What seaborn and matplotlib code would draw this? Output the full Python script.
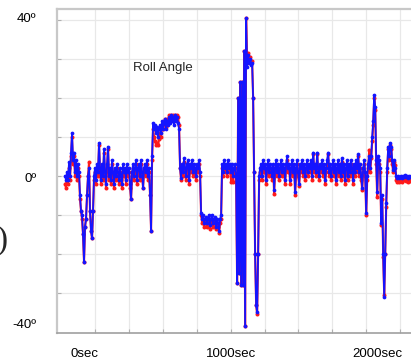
import numpy as np
import pandas as pd
import matplotlib
matplotlib.use("Agg")
import matplotlib.pyplot as plt
from matplotlib.ticker import FixedLocator
import seaborn as sns

# ---- data (roll angle in degrees, regularly sampled) ----
t_start = -133.0      # seconds
t_step = 6.83         # seconds per sample

roll_blue = [
    0, -1, 1, -1, 3.5, 0, 6, 11, 4, 6,
    1, 4, 0, 3, 1, -5, -9, -10, -15, -22,
    -13, -11, -5, 0, 2, -9, -14, -16, -9, 0,
    2, -1, 3, 1, 8.5, 2, -1, 3, 0, 7,
    1, -2, 3, 7.5, 0, 2, -1, 4, 1, -2,
    2, 0, 3, 1, -1, 2, 0, -2, 3, 1,
    2, -1, 3, 1, 2, -2, -6, 1, 3, 0,
    2, 4, -1, 2, 3, 0, 4, 1, -3, 2,
    3, 1, 4, 0, 2, -5, -14, 5, 13.5, 12,
    13, 11, 12.5, 10, 12, 13, 11, 14, 12, 13.5,
    14.5, 12, 14, 13, 15, 13.5, 15.5, 14, 15, 13,
    15.5, 14, 15, 13.5, 12, 2, -0.5, 3, 1, 4.5,
    2, 0, 3, 4, -1, 3, 2, 4, 1, 3,
    2, 0, 3, 2, 4, 1, -9.5, -11, -10, -12,
    -11, -10.5, -12, -11, -10, -12.5, -11, -10, -12, -11,
    -10.5, -13, -11, -12, -14, -11, -10, 3, 1, 4,
    2, 3, 1, 4, 2, 3, 1, 3, 0, 2,
    3, 0, -27.5, 20, -25, 24, -28, 24, -28, 32,
    -38.5, 40.5, 28, 31, 29, 30, 28.5, 29, 20, 1,
    -20, -33, -35, -20, 0, 2, 3, 0, 4, 2,
    3, -1, 2, 4, 1, 3, 2, 0, 3, -3.6,
    2, 4, 1, 3, 0, 2, 4, 1, 3, 2,
    -1, 3, 5, 2, 3, -1, 2, 4, 1, 3,
    -4, 2, 4, 1, -2, 3, 2, 4, 1, 3,
    0, 2, 4, 1, 3, 2, 4, 0, 6, 2,
    3, 1, 6, 2, 0, 3, 2, 4, 1, 3,
    -1, 2, 4, 6, 1, 3, 0, 2, 4, 1,
    3, -1, 2, 4, 1, 3, 0, 4.5, 1, 3,
    -1, 2, 4, 0, 3, 1, 4, 2, -1, 3,
    1, 4, 2, 5.5, 1, 3, 0, -3, 2, 4,
    1, -9.5, 0, 3, 5, 2, 5, 10, 14, 20.8,
    17.7, 4, -4, 5, 4, 2, -12, -5, -20, -31,
    -20, -7, 2, 7.5, 5, 8.5, 7.5, 4, 1.5, 4,
    2, 0, -0.5, 0, -0.5, -0.3, 0, -0.5, 0, -0.2,
    0.2, -0.3, 0, -0.5, 0, -0.2, 0,
]

roll_red = [
    -2, -3, 0, -2, 2, -1, 5, 10, 3, 5,
    0, 3, -1, 2, 0, -6, -9, -11, -15, -22,
    -13, -11, -5, 0, 3.5, -9, -14, -16, -9, -1,
    1, -2, 2, 0, 8, 1, -2, 2, -1, 6,
    0, -3, 2, 7, -1, 1, -2, 3, 0, -3,
    1, -1, 2, 0, -2, 1, -1, -3, 2, 0,
    1, -2, 2, 0, 1, -3, -6, 0, 2, -1,
    1, 3, -2, 1, 2, -1, 3, 0, -3, 1,
    2, 0, 3, -1, 1, -5, -14, 4, 12, 10,
    9, 8, 8.5, 8, 9.5, 11, 10, 13, 12, 13.5,
    14.5, 12.5, 14.5, 13.5, 15.5, 14, 15.5, 14.5, 15.5, 14,
    15.5, 15, 15.6, 15, 13, 2, -1, 2, 0, 3.5,
    1, -1, 2, 3, -2, 2, 1, 3, 0, 2,
    1, -1, 2, 1, 3, 0, -10, -12, -11, -13,
    -12, -11.5, -13, -12, -11, -13.5, -12, -11, -13, -12,
    -11.5, -13.5, -12, -13, -14.5, -12, -11, 2, 0, 3,
    1, 2, 0, 3, 1, 2, -1.5, 2, -1.5, 1,
    2, -1, -27.5, 20, -25, 24, -28, 24, -28, 32,
    -38.5, 40.5, 29, 31.5, 29.5, 30.5, 29, 29.5, 20, 1,
    -20, -33, -35.5, -20, -1, 1, 2, -1, 3, 1,
    2, -2, 1, 3, 0, 2, 1, -1, 2, -4.5,
    1, 3, 0, 2, -1, 1, 3, 0, 2, 1,
    -2, 2, 4, 1, 2, -2, 1, 3, 0, 2,
    -5, 1, 3, 0, -2.5, 2, 1, 3, 0, 2,
    -1, 1, 3, 0, 2, 1, 3, -1, 5.5, 1,
    2, 0, 5.5, 1, -1, 2, 1, 3, 0, 2,
    -2, 1, 3, 5.5, 0, 2, -1, 1, 3, 0,
    2, -2, 1, 3, 0, 2, -1, 3.5, 0, 2,
    -2, 1, 3, -1, 2, 0, 3, 1, -2, 2,
    0, 3, 1, 5, 0, 2, -1, -3.5, 1, 3,
    0, -10, -1, 2, 6.7, 1, 4.5, 9, 13, 20,
    17, 3, -5.4, 4, 3, 1, -12.5, -6, -20.8, -30.5,
    -20, -8, 1, 7, 4, 8, 7, 3, 1, 3.5,
    2.8, -1, -1.5, -1, -1.5, -1, -1, -1.5, -1, -1,
    -0.8, -1.2, -1, -1.5, -1, -1.2, -1,
]

x_tick_values = [0, 1000, 2000]
x_tick_labels = ["0sec", "1000sec", "2000sec"]
y_label_values = [40.5, -0.5, -37.7]
y_label_texts = ["40º", "0º", "-40º"]
title_text = "Roll Angle"

time_s = t_start + t_step * np.arange(len(roll_blue))
df = pd.DataFrame({"time": time_s, "blue": roll_blue, "red": roll_red})

# ---- figure ----
sns.set_theme(style="white")
plt.rcParams["font.family"] = ["Liberation Sans", "DejaVu Sans"]

W, H = 411, 360
fig = plt.figure(figsize=(W / 100, H / 100), dpi=100)
fig.patch.set_facecolor("white")
left_px, right_px, top_px, bot_px = 57, 425, 9, 333
ax = fig.add_axes([left_px / W, (H - bot_px) / H, (right_px - left_px) / W, (bot_px - top_px) / H])
ax.set_facecolor("white")

sns.lineplot(data=df, x="time", y="red", color="#ff1a1a", linewidth=1.5,
             marker="o", markersize=2.9, markeredgewidth=0, ax=ax)
sns.lineplot(data=df, x="time", y="blue", color="#1414ff", linewidth=1.3,
             marker="o", markersize=2.7, markeredgewidth=0, ax=ax)

px_per_s = 0.1465
x0_px = 84.5
ax.set_xlim((left_px - x0_px) / px_per_s, (right_px - x0_px) / px_per_s)
ax.set_ylim(-40.26, 42.8)

# grid on minor ticks
ax.xaxis.set_minor_locator(FixedLocator(np.arange(71.7, 2400, 231.4)))
ax.yaxis.set_minor_locator(FixedLocator(np.arange(-30, 41, 10)))
ax.grid(which="minor", color="#e8e8e8", linewidth=0.9)
ax.grid(which="major", visible=False)
ax.tick_params(which="minor", direction="in", length=3, width=0.8, color="#b0b0b0",
               bottom=True, left=True)

ax.set_xticks(x_tick_values, x_tick_labels)
ax.set_yticks(y_label_values, y_label_texts)
ax.tick_params(which="major", length=0, labelsize=9.5, labelcolor="black")
ax.tick_params(axis="x", which="major", pad=11)
ax.tick_params(axis="y", which="major", pad=15)
ax.set_xlabel("")
ax.set_ylabel("")

for side in ["top", "left"]:
    ax.spines[side].set_color("#c8c8c8")
    ax.spines[side].set_linewidth(1.6)
ax.spines["bottom"].set_color("#a0a0a0")
ax.spines["bottom"].set_linewidth(1.2)
ax.spines["right"].set_visible(False)

fig.text(133 / W, 1 - 68 / H, title_text, ha="left", va="center", fontsize=9.5)
fig.text(8 / W, 1 - 241 / H, ")", ha="right", va="center", fontsize=24,
         family=["Liberation Serif", "DejaVu Serif"])

fig.savefig("out.png", dpi=100, facecolor="white")
